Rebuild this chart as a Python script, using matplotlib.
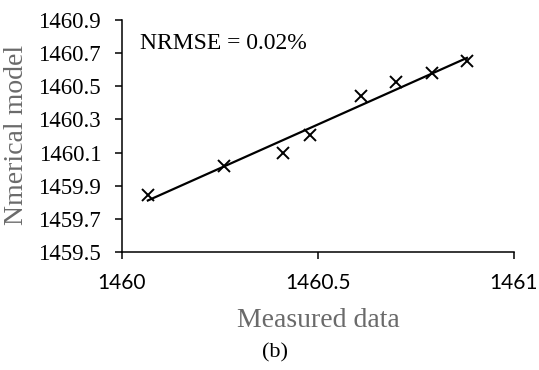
import numpy as np
import matplotlib.pyplot as plt

# measured vs numerical model values
measured = [1460.066, 1460.26, 1460.41, 1460.48, 1460.61, 1460.70, 1460.79, 1460.88]
numerical = [1459.844, 1460.02, 1460.10, 1460.205, 1460.44, 1460.525, 1460.58, 1460.65]
y_ticks = [1459.5, 1459.7, 1459.9, 1460.1, 1460.3, 1460.5, 1460.7, 1460.9]
x_ticks = [1460, 1460.5, 1461]
x_tick_labels = ["1460", "1460.5", "1461"]
nrmse_text = "NRMSE = 0.02%"

serif = "Liberation Serif"
grey = "#6a6a6a"

fig = plt.figure(figsize=(5.39, 3.70), dpi=100)
ax = fig.add_axes([0.2263, 0.3189, 0.7273, 0.6271])

# linear trendline across the measured range
coef = np.polyfit(measured, numerical, 1)
xs = np.array([min(measured), max(measured)])
ax.plot(xs, np.polyval(coef, xs), color="black", lw=1.6, zorder=2)
ax.plot(measured, numerical, linestyle="none", marker="x", color="black",
        markersize=8, markeredgewidth=1.4, zorder=3)

ax.set_xlim(1460, 1461)
ax.set_ylim(1459.5, 1460.9)
ax.set_xticks(x_ticks)
ax.set_xticklabels(x_tick_labels, fontfamily="Lato", fontsize=15)
ax.set_yticks(y_ticks)
ax.set_yticklabels([f"{v:.1f}" for v in y_ticks], fontfamily=serif, fontsize=16.5)

for side in ("top", "right"):
    ax.spines[side].set_visible(False)
for side in ("left", "bottom"):
    ax.spines[side].set_linewidth(1.1)
ax.tick_params(axis="both", direction="out", length=5, width=1.1, colors="black")
ax.tick_params(axis="x", pad=10)
ax.tick_params(axis="y", pad=10)

ax.set_ylabel("Nmerical model", fontfamily=serif, fontsize=20, color=grey,
              va="center", ha="center")
ax.yaxis.set_label_coords(-0.268, 0.505)
ax.set_xlabel("Measured data", fontfamily=serif, fontsize=20, color=grey,
              va="center", ha="center")
ax.xaxis.set_label_coords(0.5, -0.295)

ax.text(0.045, 0.90, nrmse_text, transform=ax.transAxes, fontfamily=serif,
        fontsize=17, va="center", ha="left")
fig.text(0.51, 0.046, "(b)", fontfamily=serif, fontsize=16, ha="center", va="center")

fig.savefig("out.png", dpi=100)
